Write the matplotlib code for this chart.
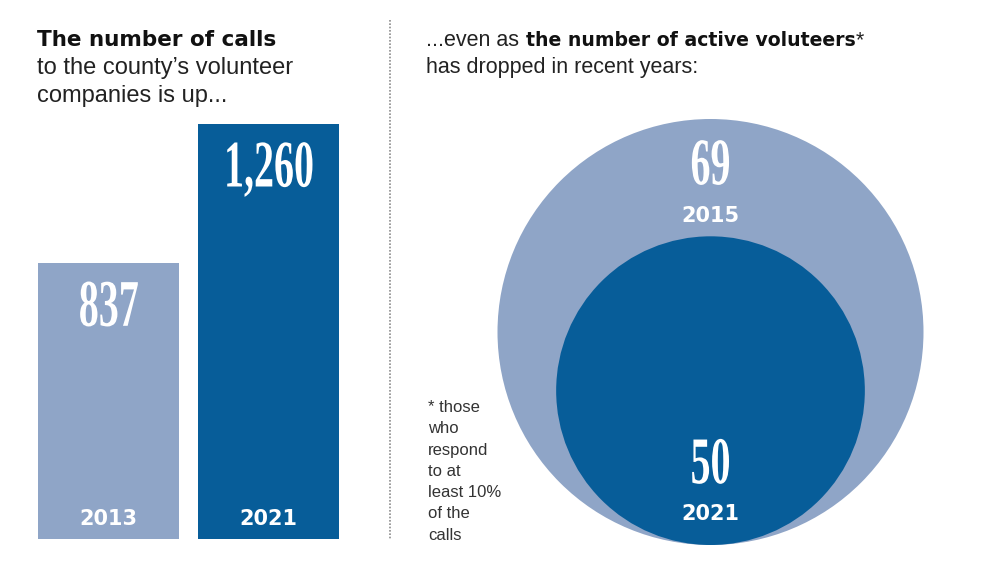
import matplotlib
matplotlib.use("Agg")
import matplotlib.pyplot as plt
from matplotlib.patches import Circle
from matplotlib.patheffects import AbstractPathEffect
from matplotlib.transforms import Affine2D

# data
call_years = ["2013", "2021"]
call_counts = [837, 1260]
call_labels = ["837", "1,260"]
vol_years = ["2015", "2021"]
vol_counts = [69, 50]

light = "#8fa5c7"
dark = "#075d99"
bar_colors = [light, dark]
circle_colors = [light, dark]


class Squeeze(AbstractPathEffect):
    # narrows the glyphs around their centre, to fake a condensed serif
    def __init__(self, sx=0.6):
        super().__init__()
        self.sx = sx

    def draw_path(self, renderer, gc, tpath, affine, rgbFace=None):
        ext = tpath.get_extents()
        mid = (ext.x0 + ext.x1) / 2
        sq = Affine2D().translate(-mid, 0).scale(self.sx, 1).translate(mid, 0)
        renderer.draw_path(gc, tpath, sq + affine, rgbFace)


num_font = dict(family="Liberation Serif", weight="bold", size=48,
                color="white", path_effects=[Squeeze(0.6)])
year_font = dict(family="DejaVu Sans", weight="bold", size=15, color="white")
reg = "Liberation Sans"

W, H = 990, 570
fig = plt.figure(figsize=(W / 100, H / 100), dpi=100)

# overlay in pixel coords for headlines and divider
ax = fig.add_axes([0, 0, 1, 1])
ax.set_xlim(0, W)
ax.set_ylim(H, 0)
ax.axis("off")

# bars
bar_ax = fig.add_axes([38 / W, 31 / H, 301 / W, 415 / H])
xs = list(range(len(call_counts)))
bar_ax.bar(xs, call_counts, width=0.884, color=bar_colors)
bar_ax.set_xlim(-0.442, 1.442)
bar_ax.set_ylim(0, max(call_counts))
bar_ax.axis("off")
for x, v, lab, yr in zip(xs, call_counts, call_labels, call_years):
    bar_ax.annotate(lab, xy=(x, v), xytext=(0, -45), textcoords="offset points",
                    ha="center", va="baseline", **num_font)
    bar_ax.annotate(yr, xy=(x, 0), xytext=(0, 10), textcoords="offset points",
                    ha="center", va="baseline", **year_font)

# circles, radius proportional to count, sitting on the same bottom
r_max = max(vol_counts)
circ_ax = fig.add_axes([497.5 / W, 25 / H, 426 / W, 426 / H])
circ_ax.set_xlim(-r_max, r_max)
circ_ax.set_ylim(0, 2 * r_max)
circ_ax.set_aspect("equal")
circ_ax.axis("off")
for v, c in zip(vol_counts, circle_colors):
    circ_ax.add_patch(Circle((0, v), v, color=c, lw=0))

circ_ax.annotate(str(vol_counts[0]), xy=(0, 2 * vol_counts[0]), xytext=(0, -47),
                 textcoords="offset points", ha="center", va="baseline", **num_font)
circ_ax.annotate(vol_years[0], xy=(0, 2 * vol_counts[0]), xytext=(0, -74),
                 textcoords="offset points", ha="center", va="baseline", **year_font)
circ_ax.annotate(str(vol_counts[1]), xy=(0, 0), xytext=(0, 44.5),
                 textcoords="offset points", ha="center", va="baseline", **num_font)
circ_ax.annotate(vol_years[1], xy=(0, 0), xytext=(0, 18),
                 textcoords="offset points", ha="center", va="baseline", **year_font)

# left headline
ax.text(37, 46, "The number of calls", family="DejaVu Sans", weight="bold",
        size=15.5, color="#111111", va="baseline")
ax.text(37, 74, "to the county\u2019s volunteer", family=reg, size=17,
        color="#222222", va="baseline")
ax.text(37, 102, "companies is up...", family=reg, size=17,
        color="#222222", va="baseline")

# right headline, regular + bold on one shared baseline
base1 = 46.5
t1 = ax.text(426, base1, "...even as", family=reg, size=15.5, color="#222222",
             va="baseline")
t2 = ax.annotate("the number of active voluteers", xy=(1, base1),
                 xycoords=(t1, "data"), xytext=(5, 0),
                 textcoords="offset points", va="baseline",
                 family="DejaVu Sans", weight="bold", size=13.6, color="#111111")
ax.annotate("*", xy=(1, base1), xycoords=(t2, "data"), va="baseline",
            family=reg, size=15.5, color="#222222")
ax.text(426, 73.5, "has dropped in recent years:", family=reg, size=15.5,
        color="#222222", va="baseline")

# footnote
note = ["* those", "who", "respond", "to at", "least 10%", "of the", "calls"]
for i, line in enumerate(note):
    ax.text(428, 412 + i * 21.3, line, family=reg, size=12, color="#333333",
            va="baseline")

# dotted divider
ax.plot([390, 390], [20, 540], color="#8c8c8c", lw=1.2, ls=(0, (1, 1)))

fig.savefig("out.png", dpi=100, facecolor="white")
